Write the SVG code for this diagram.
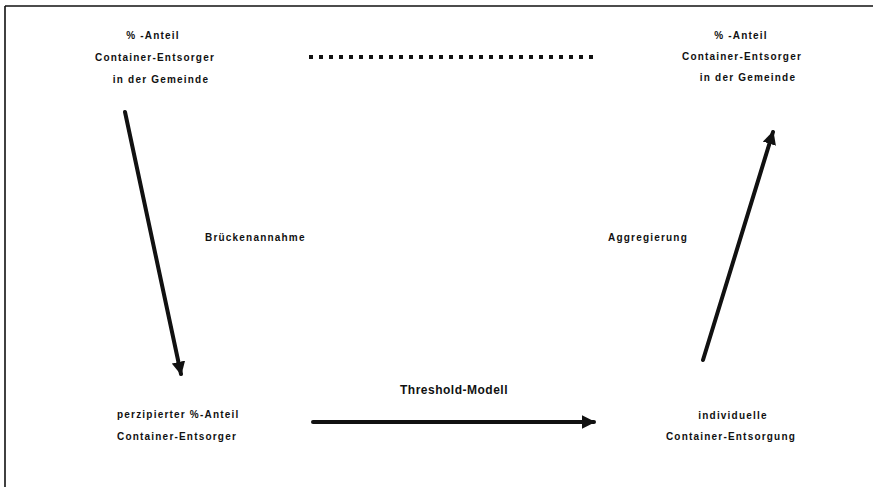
<svg xmlns="http://www.w3.org/2000/svg" width="873" height="487" viewBox="0 0 873 487">
<defs>
<style>
.t{font-family:"Liberation Sans",Arial,sans-serif;font-weight:bold;font-size:10px;letter-spacing:1.2px;fill:#111}
.tc{text-anchor:middle}
.c{stroke:#111;stroke-width:4;fill:none;stroke-linecap:round}
</style>
<marker id="ah" viewBox="0 0 10 10" refX="9" refY="5" markerWidth="3.4" markerHeight="3.4" orient="auto" markerUnits="strokeWidth">
<path d="M0,0 L10,5 L0,10 Z" fill="#111"/>
</marker>
</defs>
<rect width="873" height="487" fill="#fff"/>
<g id="frame" stroke="#111" stroke-width="1.6" fill="none">
<line x1="5" y1="6" x2="873" y2="6"/>
<line x1="5" y1="6" x2="5" y2="487"/>
</g>
<g id="node-top-left">
<text class="t tc" x="153" y="39">% -Anteil</text>
<text class="t tc" x="155" y="61">Container-Entsorger</text>
<text class="t tc" x="161" y="83">in der Gemeinde</text>
</g>
<g id="node-top-right">
<text class="t tc" x="741" y="39">% -Anteil</text>
<text class="t tc" x="742" y="60">Container-Entsorger</text>
<text class="t tc" x="748" y="81">in der Gemeinde</text>
</g>
<g id="node-bottom-left">
<text class="t" x="117" y="418">perzipierter %-Anteil</text>
<text class="t" x="117" y="440">Container-Entsorger</text>
</g>
<g id="node-bottom-right">
<text class="t tc" x="733" y="419">individuelle</text>
<text class="t tc" x="731" y="440">Container-Entsorgung</text>
</g>
<g id="connectors">
<line x1="309" y1="57" x2="593" y2="57" stroke="#111" stroke-width="4" stroke-dasharray="4 6"/>
<line class="c" x1="125" y1="112" x2="181" y2="374" marker-end="url(#ah)"/>
<line class="c" x1="313" y1="422" x2="594" y2="422" marker-end="url(#ah)"/>
<line class="c" x1="703" y1="360" x2="773" y2="132" marker-end="url(#ah)"/>
<text class="t" x="205" y="241">Brückenannahme</text>
<text class="t" x="608" y="241">Aggregierung</text>
<text class="t tc" style="font-size:12px;letter-spacing:0.5px" x="454" y="394">Threshold-Modell</text>
</g>
</svg>
